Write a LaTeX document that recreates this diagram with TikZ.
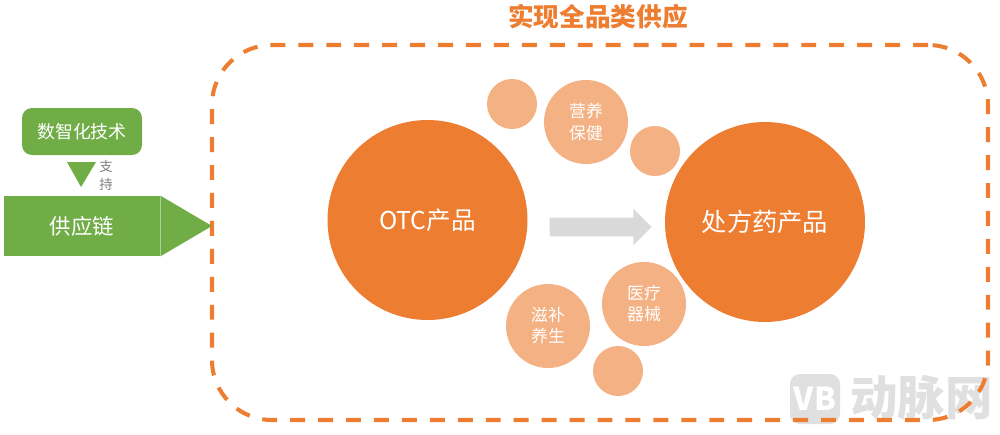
\documentclass[tikz,border=0pt]{standalone}
\usepackage{fontspec}
\setmainfont{Noto Sans CJK SC}
\usetikzlibrary{shapes.arrows}
\definecolor{orangemain}{HTML}{ED7D31}
\definecolor{orangelight}{HTML}{F4B183}
\definecolor{greenmain}{HTML}{70AD47}
\definecolor{greylight}{HTML}{D9D9D9}
\definecolor{greymark}{HTML}{E0E0E0}
\definecolor{greytext}{HTML}{7F7F7F}

\begin{document}
\begin{tikzpicture}

      \useasboundingbox (0,0) rectangle (20,8.68);

      % mark in the corner
      \node[fill=greymark,rounded corners=0.2cm,minimum size=1cm,inner sep=0,text=white,font=\fontsize{18}{18}\selectfont\bfseries\itshape] (logo) at (16.30,0.70) {VB};
      \node[text=greymark,inner sep=0,font=\fontsize{27}{28}\selectfont\bfseries] (mark) at (18.43,0.72) {动脉网};

      % dashed frame
      \node[draw=orangemain,line width=2.3pt,dash pattern=on 8.5pt off 7.4pt,rounded corners=1.2cm,minimum width=15.52cm,minimum height=7.5cm,inner sep=0] (frame) at (12,4.03) {};
      \node[text=orangemain,inner sep=0,font=\fontsize{14.6}{16}\selectfont\bfseries] (title) at (11.96,8.34) {实现全品类供应};

      \begin{scope}[every node/.style={circle,inner sep=0,text=white,align=center}]
        \begin{scope}[every node/.append style={fill=orangemain,minimum size=4cm}]
          \node[font=\fontsize{14}{16}\selectfont] (otc) at (8.55,4.28) {OTC产品};
          \node[font=\fontsize{14.4}{16}\selectfont] (drug) at (15.30,4.24) {处方药产品};
        \end{scope}
        \begin{scope}[every node/.append style={fill=orangelight,minimum size=1.68cm,font=\fontsize{9.6}{12}\selectfont}]
          \node (care) at (11.72,6.24) {营养\\保健};
          \node (device) at (12.88,2.60) {医疗\\器械};
          \node (tonic) at (10.96,2.16) {滋补\\养生};
        \end{scope}
        \begin{scope}[every node/.append style={fill=orangelight,minimum size=1cm}]
          \node (dota) at (10.24,6.60) {};
          \node (dotb) at (13.10,5.66) {};
          \node (dotc) at (12.36,1.26) {};
        \end{scope}
      \end{scope}

      \node[single arrow,fill=greylight,inner xsep=0,inner ysep=0.18cm,minimum height=2.04cm,minimum width=0.72cm,single arrow head extend=0.18cm,single arrow head indent=0cm] (move) at (11.92,4.14) {};

      % left side
      \begin{scope}[every node/.style={fill=greenmain,text=white,inner sep=0}]
        \node[rounded corners=0.2cm,minimum width=2.4cm,minimum height=0.94cm,font=\fontsize{10.2}{12}\selectfont] (tech) at (1.64,6.05) {数智化技术};
        \node[minimum width=3.12cm,minimum height=1.2cm,font=\fontsize{12.2}{14}\selectfont] (chain) at (1.64,4.16) {供应链};
      \end{scope}
      \coordinate (tip) at (4.24,4.16);
      \fill[greenmain] (chain.north east) -- (tip) -- (chain.south east) -- cycle;
      \draw[white,opacity=0.12,line width=0.4pt] (chain.north east) -- (chain.south east);

      \coordinate (downa) at (1.34,5.44);
      \coordinate (downb) at (1.92,5.44);
      \coordinate (downc) at (1.62,4.94);
      \fill[greenmain] (downa) -- (downb) -- (downc) -- cycle;
      \node[text=greytext,inner sep=0,align=center,font=\fontsize{7.6}{10.4}\selectfont] (back) at (2.12,5.17) {支\\持};

    \end{tikzpicture}
\end{document}
